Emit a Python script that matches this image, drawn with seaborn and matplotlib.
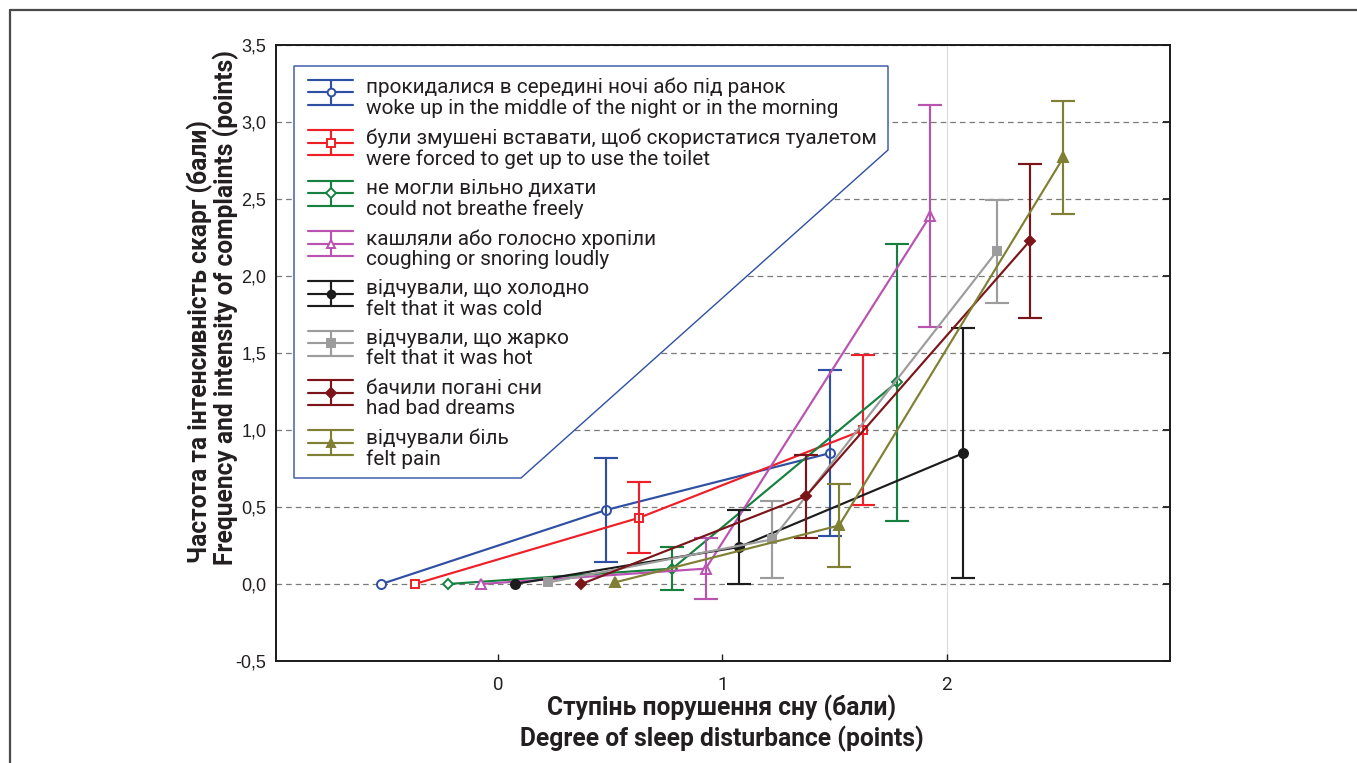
import matplotlib
matplotlib.use("Agg")
import matplotlib.pyplot as plt
from matplotlib import font_manager as fm
from matplotlib.font_manager import FontProperties
from matplotlib.legend_handler import HandlerBase
from matplotlib.lines import Line2D
from matplotlib.patches import Polygon
import numpy as np
import pandas as pd
import seaborn as sns

# ---------------------------------------------------------------- data
complaints_uk = [
    "прокидалися в середині ночі або під ранок",
    "були змушені вставати, щоб скористатися туалетом",
    "не могли вільно дихати",
    "кашляли або голосно хропіли",
    "відчували, що холодно",
    "відчували, що жарко",
    "бачили погані сни",
    "відчували біль",
]
complaints_en = [
    "woke up in the middle of the night or in the morning",
    "were forced to get up to use the toilet",
    "could not breathe freely",
    "coughing or snoring loudly",
    "felt that it was cold",
    "felt that it was hot",
    "had bad dreams",
    "felt pain",
]

grades = [0, 1, 2]          # degree of sleep disturbance, points
xtick_labels = ["0", "1", "2"]
ytick_values = [-0.5, 0.0, 0.5, 1.0, 1.5, 2.0, 2.5, 3.0, 3.5]
ytick_labels = ["-0,5", "0,0", "0,5", "1,0", "1,5", "2,0", "2,5", "3,0", "3,5"]

# mean complaint score and half-width of its interval at each grade
woke_mean = [0.00, 0.48, 0.85]
woke_err = [0.00, 0.34, 0.54]
toilet_mean = [0.00, 0.43, 1.00]
toilet_err = [0.00, 0.23, 0.49]
breathe_mean = [0.00, 0.10, 1.31]
breathe_err = [0.00, 0.14, 0.90]
cough_mean = [0.00, 0.10, 2.39]
cough_err = [0.00, 0.20, 0.72]
cold_mean = [0.00, 0.24, 0.85]
cold_err = [0.00, 0.24, 0.81]
hot_mean = [0.01, 0.29, 2.16]
hot_err = [0.00, 0.25, 0.335]
dreams_mean = [0.00, 0.57, 2.23]
dreams_err = [0.00, 0.27, 0.50]
pain_mean = [0.01, 0.38, 2.77]
pain_err = [0.00, 0.27, 0.365]

means = [woke_mean, toilet_mean, breathe_mean, cough_mean,
         cold_mean, hot_mean, dreams_mean, pain_mean]
errors = [woke_err, toilet_err, breathe_err, cough_err,
          cold_err, hot_err, dreams_err, pain_err]

# ---------------------------------------------------------------- style
colors = ["#2f4fa3", "#ee1f26", "#16803e", "#b952b1",
          "#1c1c1c", "#9c9c9c", "#7c1519", "#7f8034"]
markers = ["o", "s", "D", "^", "o", "s", "D", "^"]
filled = [False, False, False, False, True, True, True, True]
marker_sizes = [6.5, 6.0, 5.5, 6.5, 6.5, 6.0, 5.5, 6.5]
# horizontal dodge of the groups so that the intervals do not overlap
dodge = np.linspace(-0.52, 0.52, len(means))

TEXT = "#231f20"
W, H, DPI = 1357, 763, 100

sns.set_theme(style="ticks")


def has_font(name):
    try:
        fm.findfont(FontProperties(family=name), fallback_to_default=False)
        return True
    except Exception:
        return False


main_font = "Roboto" if has_font("Roboto") else "Noto Sans"
narrow_font = "Liberation Sans Narrow" if has_font("Liberation Sans Narrow") else main_font
tick_font = "Liberation Sans" if has_font("Liberation Sans") else "DejaVu Sans"
plt.rcParams["font.family"] = [main_font, "DejaVu Sans"]
plt.rcParams["text.color"] = TEXT

fig = plt.figure(figsize=(W / DPI, H / DPI), dpi=DPI)
fig.patch.set_facecolor("white")
renderer = fig.canvas.get_renderer()


def fx(px):
    return px / W


def fy(py):
    return 1 - py / H


def metrics(s, fp):
    return renderer.get_text_width_height_descent(s, fp, ismath=False)


def fit_size(strings, family, weight, target_px):
    fp = FontProperties(family=[family, "DejaVu Sans"], weight=weight, size=10.0)
    widest = max(metrics(s, fp)[0] for s in strings)
    return 10.0 * target_px / widest


ax = fig.add_axes([fx(276), fy(661), fx(1170) - fx(276), fy(45) - fy(661)])
ax.set_facecolor("white")

# ---------------------------------------------------------------- series
series_lines = []
for i in range(len(means)):
    x = np.asarray(grades, dtype=float) + dodge[i]
    m = np.asarray(means[i])
    e = np.asarray(errors[i])
    df = pd.DataFrame({"grade": x, "score": m})
    sns.lineplot(data=df, x="grade", y="score", ax=ax, color=colors[i],
                 linewidth=1.55, marker=markers[i], markersize=marker_sizes[i],
                 markerfacecolor=colors[i] if filled[i] else "white",
                 markeredgecolor=colors[i], markeredgewidth=1.4,
                 legend=False, zorder=4 + i)
    series_lines.append(ax.lines[-1])
    has_err = e > 0
    ax.errorbar(x[has_err], m[has_err], yerr=e[has_err], fmt="none",
                ecolor=colors[i], elinewidth=1.55, capsize=8.5, capthick=1.55,
                zorder=4 + i)

# ---------------------------------------------------------------- axes
ax.set_xlim(-0.99, 2.995)
ax.set_ylim(-0.5, 3.5)
ax.set_xticks(grades)
ax.set_xticklabels(xtick_labels)
ax.set_yticks(ytick_values)
ax.set_yticklabels(ytick_labels)
ax.set_xlabel("")
ax.set_ylabel("")

for lab in ax.get_yticklabels():
    lab.set_fontfamily([tick_font, "DejaVu Sans"])
    lab.set_fontsize(13)
    lab.set_color(TEXT)
for lab in ax.get_xticklabels():
    lab.set_fontfamily([narrow_font, "DejaVu Sans"])
    lab.set_fontsize(13.5)
    lab.set_color(TEXT)

ax.tick_params(axis="y", left=False, right=True, direction="in", length=5,
               width=1.3, color="#222222", pad=7)
ax.tick_params(axis="x", bottom=True, top=False, direction="in", length=5,
               width=1.0, color="#222222", pad=11)

ax.grid(axis="y", color="#7a7a7a", linewidth=0.9, linestyle=(0, (4.5, 3.2)))
ax.grid(axis="x", visible=False)
ax.axvline(2, color="#dedede", linewidth=0.9, zorder=0)
ax.set_axisbelow(True)
for sp in ax.spines.values():
    sp.set_visible(True)
    sp.set_color("#1a1a1a")
    sp.set_linewidth(1.4)

# ---------------------------------------------------------------- legend


class CappedHandle(HandlerBase):
    """Legend key: a line with caps above and below, like an interval."""

    def __init__(self, center, half, **kw):
        super().__init__(**kw)
        self.center = center
        self.half = half

    def create_artists(self, legend, orig, xdescent, ydescent, width, height,
                       fontsize, trans):
        c = orig.get_color()
        lw = orig.get_linewidth()
        x0, x1 = -xdescent, width - xdescent
        xm = 0.5 * (x0 + x1)
        cy, hh = self.center, self.half
        arts = [Line2D([x0, x1], [yy, yy], color=c, lw=lw)
                for yy in (cy - hh, cy, cy + hh)]
        arts.append(Line2D([xm, xm], [cy - hh, cy + hh], color=c, lw=lw))
        arts.append(Line2D([xm], [cy], linestyle="none",
                           marker=orig.get_marker(),
                           markersize=orig.get_markersize() * 0.85,
                           markerfacecolor=orig.get_markerfacecolor(),
                           markeredgecolor=orig.get_markeredgecolor(),
                           markeredgewidth=orig.get_markeredgewidth()))
        for a in arts:
            a.set_transform(trans)
        return arts


legend_labels = [f"{u}\n{e}" for u, e in zip(complaints_uk, complaints_en)]
leg_size = fit_size(complaints_uk + complaints_en, main_font, "normal", 510)
leg_px = leg_size * DPI / 72.0
line_pitch_px = 20.5
entry_pitch_px = 50.1

fp_leg = FontProperties(family=[main_font, "DejaVu Sans"], size=leg_size)
_, lp_h, lp_d = metrics("lp", fp_leg)
leg_linespacing = (line_pitch_px - lp_d) / (lp_h - lp_d)
m0 = metrics(complaints_uk[0], fp_leg)
asc_first = max(m0[1], lp_h) - max(m0[2], lp_d)

handler = CappedHandle(center=(line_pitch_px - 7.5) * 72.0 / DPI,
                       half=12.5 * 72.0 / DPI)


def make_legend(spacing, anchor):
    lg = ax.legend(series_lines, legend_labels,
                   handler_map={Line2D: handler},
                   loc="upper left", bbox_to_anchor=anchor,
                   bbox_transform=ax.transAxes, frameon=False, prop=fp_leg,
                   handlelength=45 / leg_px, handletextpad=13 / leg_px,
                   handleheight=0.7, borderpad=0, borderaxespad=0,
                   labelspacing=spacing)
    for t in lg.get_texts():
        t.set_linespacing(leg_linespacing)
        t.set_color(TEXT)
    lg.set_zorder(20)
    return lg


def ax_frac(px, py):
    return ((px - 276) / (1170 - 276), (661 - py) / (661 - 45))


spacing = 0.5
anchor = ax_frac(308, 93 - asc_first)
leg = make_legend(spacing, anchor)
for _ in range(3):
    fig.canvas.draw()
    tops = [t.get_window_extent(renderer).y1 for t in leg.get_texts()]
    pitch = -np.mean(np.diff(tops))
    spacing += (entry_pitch_px - pitch) / leg_px
    dy = (H - (93 - asc_first)) - tops[0]
    anchor = (anchor[0], anchor[1] + dy / (661 - 45))
    leg.remove()
    leg = make_legend(spacing, anchor)

# outline of the legend area
frame_pts = [ax_frac(294, 66), ax_frac(888, 66), ax_frac(888, 150),
             ax_frac(521, 478), ax_frac(294, 478)]
ax.add_patch(Polygon(frame_pts, closed=True, transform=ax.transAxes,
                     facecolor="white", edgecolor="#2f4fa3", linewidth=1.0,
                     zorder=15))

# ---------------------------------------------------------------- titles
lab_size = fit_size(["Degree of sleep disturbance (points)"], main_font, "bold", 404)
lab_kw = dict(fontfamily=[main_font, "DejaVu Sans"], fontweight="bold",
              fontsize=lab_size, color=TEXT)
fig.text(fx(722), fy(715), "Ступінь порушення сну (бали)", ha="center",
         va="baseline", **lab_kw)
fig.text(fx(722), fy(746), "Degree of sleep disturbance (points)", ha="center",
         va="baseline", **lab_kw)
fig.text(fx(200), fy(563), "Частота та інтенсивність скарг (бали)", ha="center",
         va="bottom", rotation=90, **lab_kw)
fig.text(fx(226), fy(565), "Frequency and intensity of complaints (points)",
         ha="center", va="bottom", rotation=90, **lab_kw)

# page border (top and left rules)
fig.add_artist(Line2D([fx(10), fx(10)], [0, fy(10)], transform=fig.transFigure,
                      color="#4a4a4a", linewidth=1.6))
fig.add_artist(Line2D([fx(10), 1], [fy(10), fy(10)], transform=fig.transFigure,
                      color="#4a4a4a", linewidth=1.6))

fig.savefig("out.png", dpi=DPI, facecolor="white")
